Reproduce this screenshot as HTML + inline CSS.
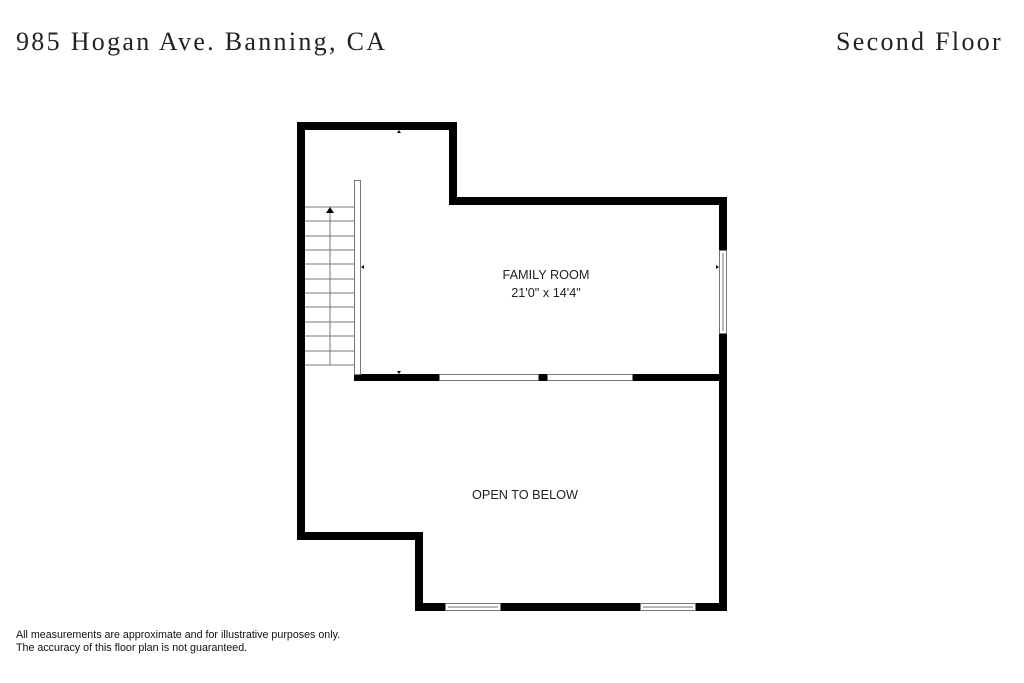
<!DOCTYPE html>
<html><head><style>
body{margin:0;width:1024px;height:683px;background:#fff;overflow:hidden;position:relative;font-family:"Liberation Sans",sans-serif}
.t{position:absolute;font-family:"Liberation Serif",serif;font-size:26px;letter-spacing:2.3px;color:#222;top:27px}
</style></head><body>
<div class="t" style="left:16px">985 Hogan Ave. Banning, CA</div>
<div class="t" style="right:21px">Second Floor</div>
<svg width="1024" height="683" style="position:absolute;left:0;top:0">
<g fill="#000">
<rect x="297" y="122" width="8" height="418"/>
<rect x="297" y="122" width="160" height="8"/>
<rect x="449" y="122" width="8" height="83"/>
<rect x="449" y="197" width="278" height="8"/>
<rect x="719" y="197" width="8" height="414"/>
<rect x="415" y="603" width="312" height="8"/>
<rect x="415" y="532" width="8" height="79"/>
<rect x="297" y="532" width="126" height="8"/>
<rect x="354" y="374" width="365" height="7"/>
</g>
<g fill="#fff" stroke="#777" stroke-width="1">
<rect x="439.5" y="374.5" width="99" height="6"/>
<rect x="547.5" y="374.5" width="85" height="6"/>
<rect x="719.5" y="250.5" width="7" height="83"/>
<rect x="445.5" y="603.5" width="55" height="7"/>
<rect x="640.5" y="603.5" width="55" height="7"/>
<rect x="354.5" y="180.5" width="6" height="194"/>
</g>
<g stroke="#777" stroke-width="1">
<line x1="448" y1="607" x2="498" y2="607"/><line x1="643" y1="607" x2="693" y2="607"/>
<line x1="723" y1="253" x2="723" y2="331"/>
<line x1="305" y1="207" x2="354" y2="207"/><line x1="305" y1="221" x2="354" y2="221"/>
<line x1="305" y1="236" x2="354" y2="236"/><line x1="305" y1="250" x2="354" y2="250"/>
<line x1="305" y1="264" x2="354" y2="264"/><line x1="305" y1="279" x2="354" y2="279"/>
<line x1="305" y1="293" x2="354" y2="293"/><line x1="305" y1="307" x2="354" y2="307"/>
<line x1="305" y1="322" x2="354" y2="322"/><line x1="305" y1="336" x2="354" y2="336"/>
<line x1="305" y1="351" x2="354" y2="351"/><line x1="305" y1="365" x2="354" y2="365"/>
<line x1="330" y1="212" x2="330" y2="365"/>
</g>
<polygon points="330,207 326,213 334,213" fill="#000"/>
<polygon points="399,130 397,133 401,133" fill="#000"/>
<polygon points="399,374 397,371 401,371" fill="#000"/>
<polygon points="361,267 364,265 364,269" fill="#000"/>
<polygon points="719,267 716,265 716,269" fill="#000"/>
<g font-family="Liberation Sans,sans-serif" font-size="12.7" fill="#222" text-anchor="middle">
<text x="546" y="279">FAMILY ROOM</text>
<text x="546" y="297">21'0" x 14'4"</text>
<text x="525" y="499">OPEN TO BELOW</text>
</g>
<g font-family="Liberation Sans,sans-serif" font-size="10.7" fill="#111">
<text x="16" y="638">All measurements are approximate and for illustrative purposes only.</text>
<text x="16" y="651">The accuracy of this floor plan is not guaranteed.</text>
</g>
</svg>
</body></html>
